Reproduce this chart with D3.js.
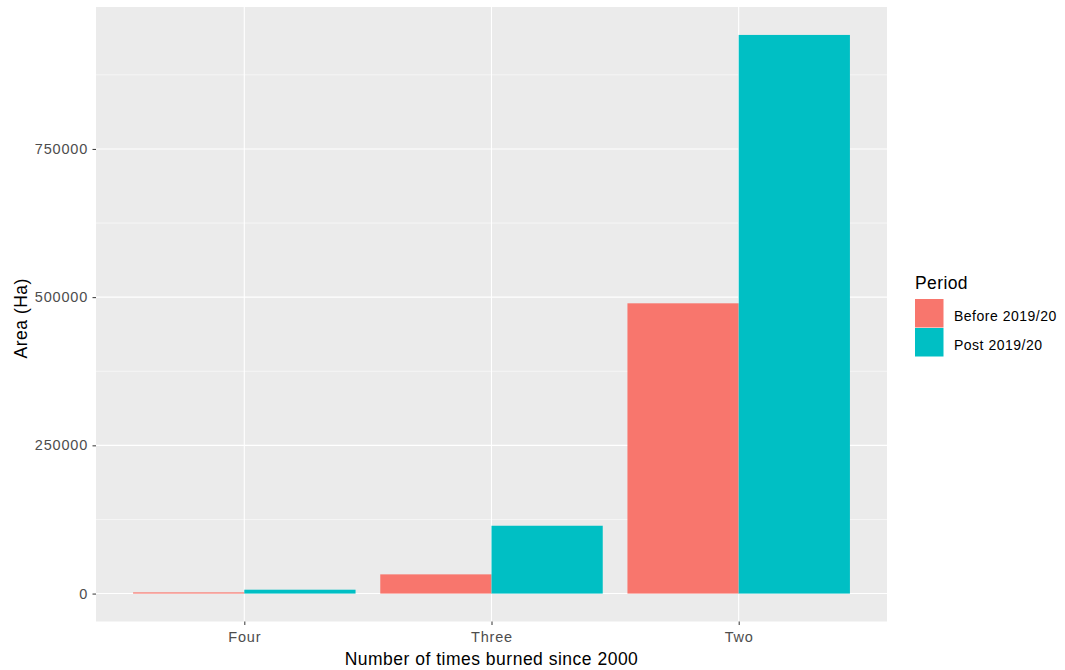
<!DOCTYPE html>
<html><head><meta charset="utf-8">
<script src="https://cdn.jsdelivr.net/npm/d3@7"></script>
<style>body{margin:0;background:#fff;} text{font-family:"Liberation Sans",Arial,sans-serif;}</style>
</head><body>
<svg id="c" width="1065" height="670"></svg>
<script>
const categories = ["Four", "Three", "Two"];
const periods = ["Before 2019/20", "Post 2019/20"];
const beforeValues = [2000, 32400, 489600];
const postValues = [6500, 114400, 942300];
const yTicks = [0, 250000, 500000, 750000];
const yMinor = [125000, 375000, 625000, 875000];
const colors = ["#F8766D", "#00BFC4"];

const svg = d3.select("#c");
const panel = {left: 96, right: 887, top: 7, bottom: 621.5};

const maxV = d3.max(postValues.concat(beforeValues));
const y = d3.scaleLinear().domain([-0.05 * maxV, 1.05 * maxV]).range([panel.bottom, panel.top]);
const step = (panel.right - panel.left) / (categories.length - 1 + 1.2);
const xc = d3.scalePoint().domain(categories).range([panel.left + 0.6 * step, panel.right - 0.6 * step]);
const bw = 0.45 * step;

svg.append("rect").attr("x", panel.left).attr("y", panel.top)
  .attr("width", panel.right - panel.left).attr("height", panel.bottom - panel.top).attr("fill", "#EBEBEB");

const g = svg.append("g");
yMinor.forEach(v => g.append("line").attr("x1", panel.left).attr("x2", panel.right)
  .attr("y1", y(v)).attr("y2", y(v)).attr("stroke", "#fff").attr("stroke-width", 0.55));
yTicks.forEach(v => g.append("line").attr("x1", panel.left).attr("x2", panel.right)
  .attr("y1", y(v)).attr("y2", y(v)).attr("stroke", "#fff").attr("stroke-width", 1.1));
categories.forEach(c => g.append("line").attr("x1", xc(c)).attr("x2", xc(c))
  .attr("y1", panel.top).attr("y2", panel.bottom).attr("stroke", "#fff").attr("stroke-width", 1.1));

const series = [beforeValues, postValues];
series.forEach((vals, si) => {
  g.selectAll(null).data(categories).enter().append("rect")
    .attr("x", c => xc(c) - bw + si * bw)
    .attr("width", bw)
    .attr("y", (c, i) => y(vals[i]))
    .attr("height", (c, i) => y(0) - y(vals[i]))
    .attr("fill", colors[si]);
});

// Y axis
const yAxis = d3.axisLeft(y).tickValues(yTicks).tickSize(3.5).tickPadding(4.5).tickFormat(d3.format("d"));
const ya = svg.append("g").attr("transform", `translate(${panel.left},0)`).call(yAxis);
ya.select(".domain").remove();
ya.selectAll(".tick line").attr("stroke", "#333").attr("stroke-width", 1);
ya.selectAll(".tick text").attr("fill", "#4D4D4D").style("font-size", "14.5px").style("letter-spacing", "0.8px");

// X axis
const xAxis = d3.axisBottom(xc).tickSize(3.5).tickPadding(7);
const xa = svg.append("g").attr("transform", `translate(0,${panel.bottom})`).call(xAxis);
xa.select(".domain").remove();
xa.selectAll(".tick line").attr("stroke", "#333").attr("stroke-width", 1);
xa.selectAll(".tick text").attr("fill", "#4D4D4D").style("font-size", "14.5px").style("letter-spacing", "0.8px");

svg.append("text").attr("x", (panel.left + panel.right) / 2).attr("y", 665)
  .attr("text-anchor", "middle").style("font-size", "17.5px").style("letter-spacing", "0.5px").attr("fill", "#000")
  .text("Number of times burned since 2000");
svg.append("text").attr("transform", `translate(27,${(panel.top + panel.bottom) / 2 + 4}) rotate(-90)`)
  .attr("text-anchor", "middle").style("font-size", "17.5px").style("letter-spacing", "0.5px").attr("fill", "#000")
  .text("Area (Ha)");

// Legend
const lg = svg.append("g");
lg.append("text").attr("x", 915).attr("y", 289).style("font-size", "17.5px").style("letter-spacing", "0.4px").text("Period");
periods.forEach((p, i) => {
  lg.append("rect").attr("x", 915).attr("y", 299 + i * 29).attr("width", 28.5).attr("height", 28.5)
    .attr("fill", colors[i]);
  lg.append("text").attr("x", 954).attr("y", 321 + i * 29)
    .style("font-size", "14px").style("letter-spacing", "0.5px").text(p);
});
</script>
</body></html>
